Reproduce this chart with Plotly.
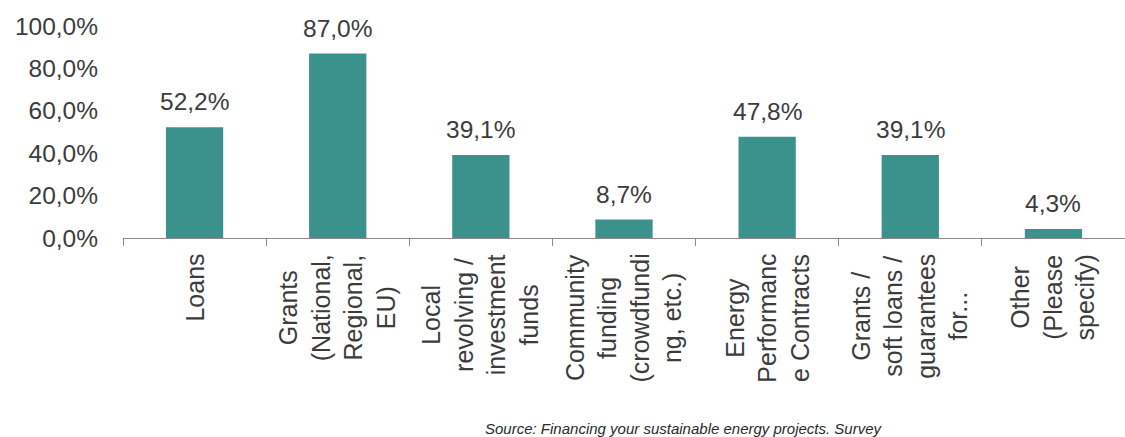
import plotly.graph_objects as go

# Survey answers: share of respondents per financing instrument (%)
categories = [
    "Loans",
    "Grants (National, Regional, EU)",
    "Local revolving / investment funds",
    "Community funding (crowdfunding, etc.)",
    "Energy Performance Contracts",
    "Grants / soft loans / guarantees for...",
    "Other (Please specify)",
]
# Wrapped labels as printed under each bar
category_labels = [
    "Loans",
    "Grants<br>(National,<br>Regional,<br>EU)",
    "Local<br>revolving /<br>investment<br>funds",
    "Community<br>funding<br>(crowdfundi<br>ng, etc.)",
    "Energy<br>Performanc<br>e Contracts",
    "Grants /<br>soft loans /<br>guarantees<br>for...",
    "Other<br>(Please<br>specify)",
]
shares = [52.2, 87.0, 39.1, 8.7, 47.8, 39.1, 4.3]
y_ticks = [0, 20, 40, 60, 80, 100]


def pct(v):
    """Percentage with one decimal and a decimal comma."""
    return f"{v:.1f}%".replace(".", ",")


FONT = "Liberation Sans, Arial, sans-serif"
TEXT = "#3c3c3c"
BAR = "#3b918c"

fig = go.Figure(
    go.Bar(
        x=categories,
        y=shares,
        marker=dict(color=BAR, line=dict(width=0)),
        hoverinfo="x+y",
    )
)

# Value labels above each bar
for cat, val in zip(categories, shares):
    fig.add_annotation(
        x=cat, y=val, xref="x", yref="y",
        text=pct(val),
        showarrow=False, yanchor="bottom", yshift=10,
        font=dict(family=FONT, size=24.5, color=TEXT),
    )

# Vertical category labels with centred lines
for cat, lab in zip(categories, category_labels):
    fig.add_annotation(
        x=cat, y=-0.066, xref="x", yref="paper",
        text=lab, textangle=-90, align="center",
        showarrow=False, yanchor="top", xanchor="center",
        font=dict(family=FONT, size=25, color=TEXT),
    )

# Source note
fig.add_annotation(
    xref="paper", yref="paper",
    x=(684 - 123) / (1125 - 123), y=(238 - 428) / 212,
    xanchor="center", yanchor="middle",
    text="<i>Source: Financing your sustainable energy projects. Survey</i>",
    showarrow=False,
    font=dict(family=FONT, size=15, color="#2a2a2a"),
)

fig.update_layout(
    width=1125, height=437,
    margin=dict(l=123, r=0, t=26, b=199),
    paper_bgcolor="white", plot_bgcolor="white",
    bargap=0.6,
    showlegend=False,
    font=dict(family=FONT, color=TEXT),
)
fig.update_xaxes(
    type="category",
    showticklabels=False,
    tickson="boundaries",
    ticks="outside", ticklen=7, tickcolor="#8a8a8a", tickwidth=1,
    showline=True, linecolor="#8a8a8a", linewidth=1,
    showgrid=False, zeroline=False,
)
fig.update_yaxes(
    range=[0, 100],
    tickvals=y_ticks,
    ticktext=[pct(v) for v in y_ticks],
    tickfont=dict(family=FONT, size=24.5, color=TEXT),
    ticks="", ticklabelstandoff=24,
    showline=False, showgrid=False, zeroline=False,
)

fig.write_html("out.html")
